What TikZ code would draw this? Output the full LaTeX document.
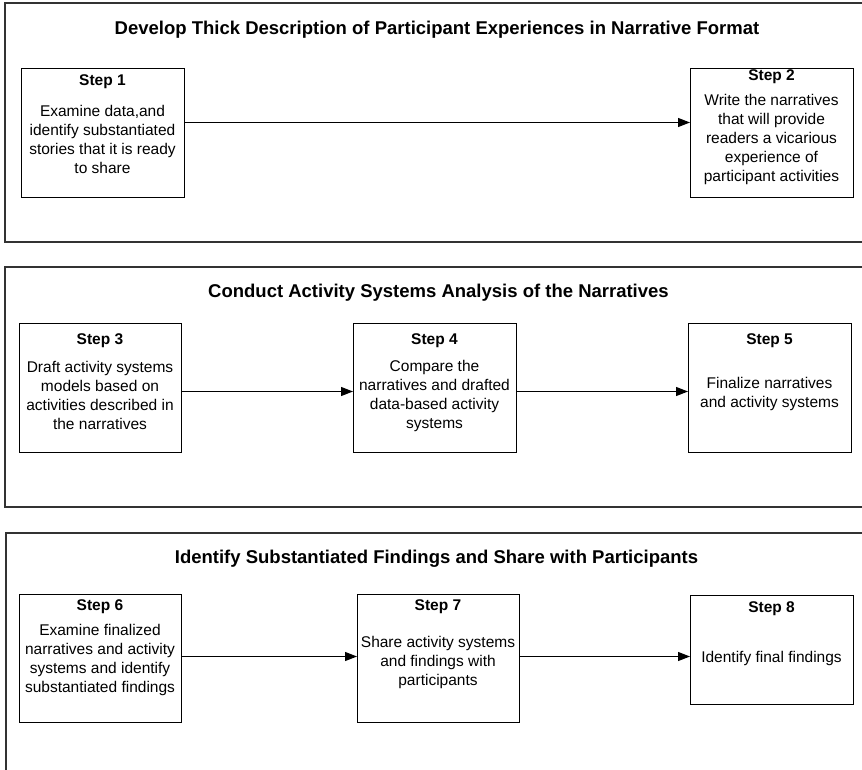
\documentclass[tikz,border=0pt]{standalone}
\usepackage{fontspec}
\setmainfont{Liberation Sans}
\usetikzlibrary{arrows.meta}
\begin{document}
\begin{tikzpicture}[x=1pt,y=-1pt,
  panel/.style={draw=black!80,line width=1.3pt},
  stepbox/.style={draw,line width=1pt,anchor=north west,inner sep=0pt},
  heading/.style={font=\fontsize{18.5}{22}\selectfont\bfseries},
  steplabel/.style={font=\fontsize{15.5}{19}\selectfont\bfseries,inner sep=0pt},
  body/.style={font=\fontsize{15.5}{19}\selectfont,align=center,inner sep=0pt},
  arr/.style={-{Triangle[length=12pt,width=9pt]},line width=1.1pt}]
\useasboundingbox (0,0) rectangle (862,770);
\clip (0,0) rectangle (862,770);

% ---- Panel 1
\draw[panel] (5,3) rectangle (880,242);
\node[heading] (h1) at (437,30) {Develop Thick Description of Participant Experiences in Narrative Format};
\node[stepbox,minimum width=163pt,minimum height=129pt] (s1) at (21,68) {};
\node[stepbox,minimum width=163pt,minimum height=129pt] (s2) at (690,68) {};
\node[steplabel] (s1t) at (102.5,82) {Step 1};
\node[body] (s1b) at (102.5,139) {Examine data,and\\identify substantiated\\stories that it is ready\\to share};
\node[steplabel] (s2t) at (771.5,77) {Step 2};
\node[body] (s2b) at (771.5,139.5) {Write the narratives\\that will provide\\readers a vicarious\\experience of\\participant activities};
\draw[arr] ([yshift=10.5pt]s1.east) -- ([yshift=10.5pt]s2.west);

% ---- Panel 2
\draw[panel] (5,267) rectangle (880,507);
\node[heading] (h2) at (438.5,293) {Conduct Activity Systems Analysis of the Narratives};
\node[stepbox,minimum width=162pt,minimum height=129pt] (s3) at (19,323) {};
\node[stepbox,minimum width=163pt,minimum height=129pt] (s4) at (353,323) {};
\node[stepbox,minimum width=163pt,minimum height=129pt] (s5) at (688,323) {};
\node[steplabel] (s3t) at (100,341) {Step 3};
\node[body] (s3b) at (100,395.5) {Draft activity systems\\models based on\\activities described in\\the narratives};
\node[steplabel] (s4t) at (434.5,341) {Step 4};
\node[body] (s4b) at (434.5,395.5) {Compare the\\narratives and drafted\\data-based activity\\systems};
\node[steplabel] (s5t) at (769.5,341) {Step 5};
\node[body] (s5b) at (769.5,393.5) {Finalize narratives\\and activity systems};
\draw[arr] ([yshift=-3.5pt]s3.east) -- ([yshift=-3.5pt]s4.west);
\draw[arr] ([yshift=-3.5pt]s4.east) -- ([yshift=-3.5pt]s5.west);

% ---- Panel 3
\draw[panel] (6,533) rectangle (880,790);
\node[heading] (h3) at (436.5,559) {Identify Substantiated Findings and Share with Participants};
\node[stepbox,minimum width=162pt,minimum height=128pt] (s6) at (19,594) {};
\node[stepbox,minimum width=162pt,minimum height=128pt] (s7) at (357,594) {};
\node[stepbox,minimum width=163pt,minimum height=109pt] (s8) at (690,595) {};
\node[steplabel] (s6t) at (100,607) {Step 6};
\node[body] (s6b) at (100,660) {Examine finalized\\narratives and activity\\systems and identify\\substantiated findings};
\node[steplabel] (s7t) at (438,607) {Step 7};
\node[body] (s7b) at (438,662) {Share activity systems\\and findings with\\participants};
\node[steplabel] (s8t) at (771.5,609) {Step 8};
\node[body] (s8b) at (771.5,658) {Identify final findings};
\draw[arr] ([yshift=2pt]s6.east) -- ([yshift=2pt]s7.west);
\draw[arr] ([yshift=-6.5pt]s7.east |- s8.west) -- ([yshift=-6.5pt]s8.west);
\end{tikzpicture}
\end{document}
